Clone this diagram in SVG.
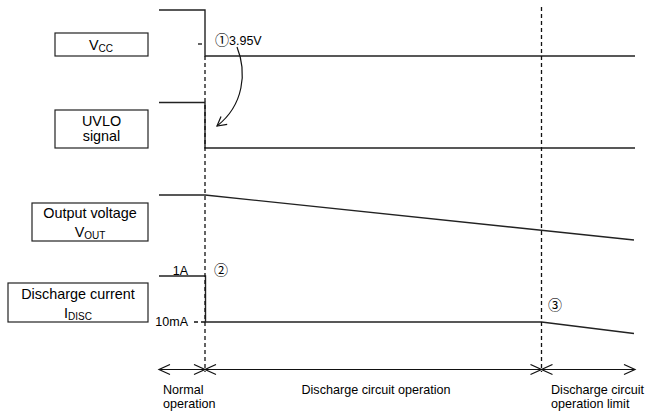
<svg xmlns="http://www.w3.org/2000/svg" width="646" height="414" viewBox="0 0 646 414">
<style>
text{font-family:"Liberation Sans",Arial,"DejaVu Sans",sans-serif;fill:#000}
.lbl{font-size:14.4px;text-anchor:middle}
.sub{font-size:10px}
.sm{font-size:12.5px}
.bt{font-size:12.6px}
.cd{font-family:"Noto Sans CJK JP","DejaVu Sans",sans-serif;font-size:14px}
.box{fill:#fff;stroke:#222;stroke-width:1.2}
.wave{fill:none;stroke:#222;stroke-width:1.4}
.dash{fill:none;stroke:#111;stroke-width:1.3;stroke-dasharray:4 3}
.arr{fill:none;stroke:#111;stroke-width:1.2}
</style>
<defs>
<marker id="chev" markerUnits="userSpaceOnUse" markerWidth="14" markerHeight="12" viewBox="0 0 14 12" refX="12" refY="6" orient="auto-start-reverse">
<path d="M1,1 L12,6 L1,11" fill="none" stroke="#111" stroke-width="1.2"/>
</marker>
<marker id="head" markerUnits="userSpaceOnUse" markerWidth="12" markerHeight="12" viewBox="0 0 12 12" refX="10" refY="6" orient="auto">
<path d="M1,1 L10,6 L1,11" fill="none" stroke="#111" stroke-width="1.2"/>
</marker>
</defs>

<g id="node-vcc">
<rect class="box" x="55" y="33" width="93" height="23"/>
<text class="lbl" x="101" y="50">V<tspan class="sub" dy="2">CC</tspan></text>
</g>
<g id="node-uvlo">
<rect class="box" x="55" y="110" width="93" height="38"/>
<text class="lbl" x="101.5" y="126">UVLO</text>
<text class="lbl" x="101.5" y="141">signal</text>
</g>
<g id="node-vout">
<rect class="box" x="32" y="203" width="116" height="38"/>
<text class="lbl" x="90" y="218">Output voltage</text>
<text class="lbl" x="90" y="237">V<tspan class="sub" dy="2">OUT</tspan></text>
</g>
<g id="node-idisc">
<rect class="box" x="8" y="283" width="140" height="39"/>
<text class="lbl" x="78" y="299">Discharge current</text>
<text class="lbl" x="78" y="318">I<tspan class="sub" dy="2">DISC</tspan></text>
</g>

<g id="waveforms">
<path class="wave" d="M159,10 H205 V56 H635"/>
<path class="wave" d="M159,102.5 H205 V148 H635"/>
<path class="wave" d="M159,195 H205 L634,240"/>
<path class="wave" d="M159,276 H205.5 V322 H541.5 L634,333.5"/>
<path class="dash" d="M198,44 H205"/>
<path class="dash" d="M194,322 H205"/>
</g>

<g id="connectors">
<path class="dash" d="M205,56 V372"/>
<path class="dash" d="M541.5,7 V372"/>
<path class="arr" d="M237,47 C247,72 244,105 217,126" marker-end="url(#head)"/>
<line class="arr" x1="159" y1="369.5" x2="205" y2="369.5" marker-start="url(#chev)" marker-end="url(#chev)"/>
<line class="arr" x1="205" y1="369.5" x2="541.5" y2="369.5" marker-start="url(#chev)" marker-end="url(#chev)"/>
<line class="arr" x1="541.5" y1="369.5" x2="635" y2="369.5" marker-start="url(#chev)" marker-end="url(#chev)"/>
</g>

<g id="labels">
<text x="215" y="45"><tspan class="cd">①</tspan><tspan class="sm">3.95V</tspan></text>
<text class="cd" x="214" y="275">②</text>
<text class="cd" x="548" y="310">③</text>
<text class="sm" x="188" y="275" text-anchor="end">1A</text>
<text class="sm" x="188" y="326" text-anchor="end">10mA</text>
<text class="bt" x="163" y="394">Normal</text>
<text class="bt" x="163" y="407.5">operation</text>
<text class="bt" x="376" y="394" text-anchor="middle">Discharge circuit operation</text>
<text class="bt" x="551" y="394">Discharge circuit</text>
<text class="bt" x="551" y="407.5">operation limit</text>
</g>
</svg>
